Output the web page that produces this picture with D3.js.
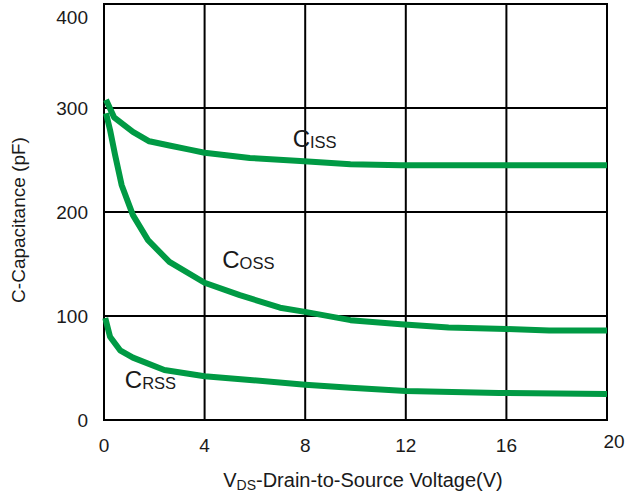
<!DOCTYPE html>
<html>
<head>
<meta charset="utf-8">
<script src="https://cdn.jsdelivr.net/npm/d3@7"></script>
<style>
  body { margin: 0; background: #fff; }
  text { font-family: "Liberation Sans", Arial, sans-serif; fill: #1a1a1a; }
</style>
</head>
<body>
<svg id="chart" width="627" height="498"></svg>
<script>
const xTicks = [0, 4, 8, 12, 16, 20];
const yTicks = [0, 100, 200, 300, 400];

const cissV = [0.08, 0.4, 1.15, 1.8, 2.6, 3.4, 4, 5.8, 7.8, 9.8, 11.8, 14, 16, 18, 20];
const cissC = [308, 291, 277, 268, 264, 260, 257, 252, 249, 246, 245, 245, 245, 245, 245];

const cossV = [0.08, 0.24, 0.44, 0.7, 1.15, 1.75, 2.6, 4, 5.4, 7, 8, 9.8, 11.8, 13.7, 16, 17.7, 20];
const cossC = [295, 279, 255, 226, 197, 173, 152, 132, 120, 108, 104, 96, 92, 89, 87.5, 86, 86];

const crssV = [0.05, 0.24, 0.64, 1.15, 2.4, 4, 5.8, 8, 9.8, 12, 15.7, 20];
const crssC = [98, 80, 67, 60, 48, 42, 38.5, 34, 31, 28, 26, 25];

const curveLabels = [
  { main: "C", sub: "ISS", v: 7.5, c: 262.5 },
  { main: "C", sub: "OSS", v: 4.7, c: 146 },
  { main: "C", sub: "RSS", v: 0.83, c: 31 }
];

const svg = d3.select("#chart");
const margin = { left: 104, right: 20, top: 4, bottom: 78 };
const width = 627, height = 498;

const x = d3.scaleLinear().domain([0, 20]).range([margin.left, width - margin.right]);
const y = d3.scaleLinear().domain([0, 400]).range([height - margin.bottom, margin.top]);

const grid = svg.append("g");
grid.selectAll(".vline")
  .data(xTicks)
  .enter().append("line")
  .attr("x1", d => x(d)).attr("x2", d => x(d))
  .attr("y1", y(0)).attr("y2", y(400))
  .attr("stroke", "#000").attr("stroke-width", 2);
grid.selectAll(".hline")
  .data(yTicks)
  .enter().append("line")
  .attr("x1", x(0) - 1).attr("x2", x(20) + 1)
  .attr("y1", d => y(d)).attr("y2", d => y(d))
  .attr("stroke", "#000").attr("stroke-width", 2);

const line = d3.line()
  .x(d => x(d[0]))
  .y(d => y(d[1]))
  .curve(d3.curveLinear);

[[cissV, cissC], [cossV, cossC], [crssV, crssC]].forEach(([vs, cs]) => {
  svg.append("path")
    .datum(vs.map((v, i) => [v, cs[i]]))
    .attr("d", line)
    .attr("fill", "none")
    .attr("stroke", "#009a44")
    .attr("stroke-width", 6)
    .attr("stroke-linejoin", "round");
});

// y tick labels
svg.selectAll(".ylab")
  .data(yTicks)
  .enter().append("text")
  .attr("x", 88)
  .attr("y", d => Math.max(y(d), 17) + 7)
  .attr("text-anchor", "end")
  .style("font-size", "19px")
  .text(d => d);

// x tick labels
svg.selectAll(".xlab")
  .data(xTicks)
  .enter().append("text")
  .attr("x", d => d === 20 ? x(d) + 7 : x(d))
  .attr("y", d => d === 20 ? 448 : 452)
  .attr("text-anchor", "middle")
  .style("font-size", "19px")
  .text(d => d);

// curve labels
curveLabels.forEach(l => {
  const t = svg.append("text")
    .attr("x", x(l.v))
    .attr("y", y(l.c))
    .style("font-size", "24px");
  t.append("tspan").text(l.main);
  t.append("tspan").style("font-size", "16.5px").attr("dy", 1).text(l.sub);
});

// axis titles
const xt = svg.append("text")
  .attr("x", 363)
  .attr("y", 487)
  .attr("text-anchor", "middle")
  .style("font-size", "20px");
xt.append("tspan").text("V");
xt.append("tspan").style("font-size", "14px").attr("dy", 3).text("DS");
xt.append("tspan").attr("dy", -3).text("-Drain-to-Source Voltage(V)");

svg.append("text")
  .attr("transform", "translate(25,220) rotate(-90)")
  .attr("text-anchor", "middle")
  .style("font-size", "19px")
  .text("C-Capacitance (pF)");
</script>
</body>
</html>
